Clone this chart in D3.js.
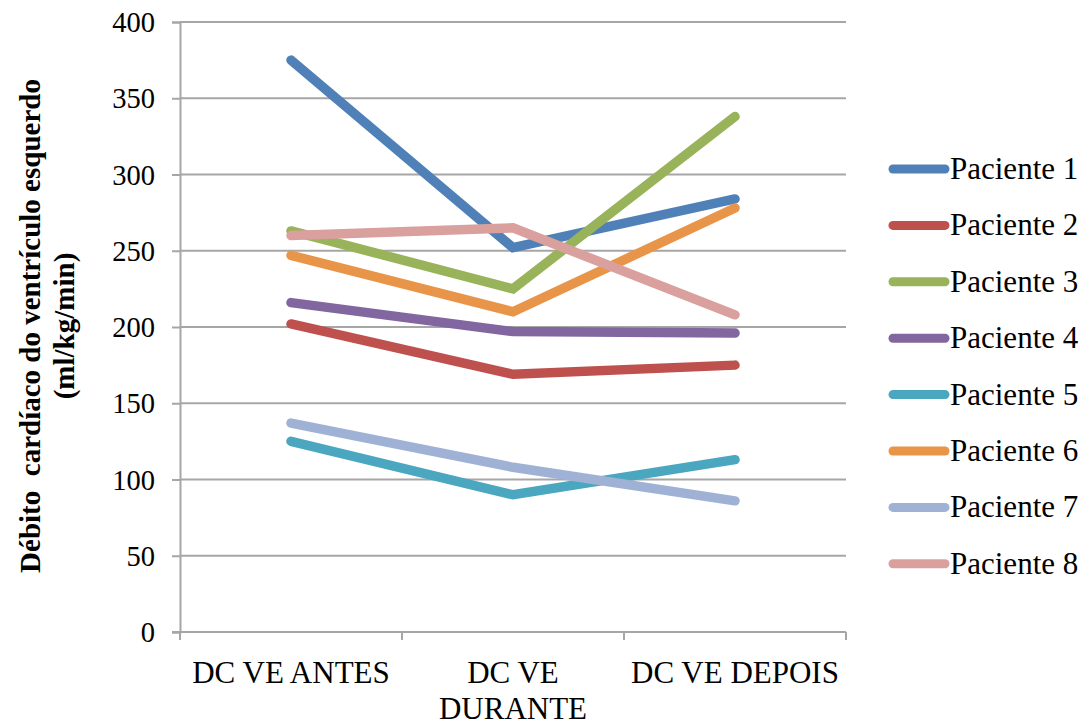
<!DOCTYPE html>
<html><head><meta charset="utf-8">
<script src="https://cdn.jsdelivr.net/npm/d3@7"></script>
<style>body{margin:0;background:#fff}svg{display:block}</style>
</head><body>
<script>
const categories = ["DC VE ANTES", "DC VE DURANTE", "DC VE DEPOIS"];
const categoryLines = [["DC VE ANTES"], ["DC VE", "DURANTE"], ["DC VE DEPOIS"]];
const seriesNames = ["Paciente 1","Paciente 2","Paciente 3","Paciente 4","Paciente 5","Paciente 6","Paciente 7","Paciente 8"];
const p1 = [375, 252, 284];
const p2 = [202, 169, 175];
const p3 = [263, 225, 338];
const p4 = [216, 197, 196];
const p5 = [125, 90, 113];
const p6 = [247, 210, 278];
const p7 = [137, 108, 86];
const p8 = [260, 265, 208];
const seriesValues = [p1,p2,p3,p4,p5,p6,p7,p8];
const colors = ["#4F81B8","#BE514D","#98B35A","#8166A0","#4AA7BF","#E8954A","#9FB2D6","#D9A09E"];
const yTicks = [0,50,100,150,200,250,300,350,400];

const W = 1092, H = 727;
const svg = d3.select("body").append("svg").attr("width", W).attr("height", H);
const mLeft = 180, mRight = 846, mTop = 22, mBottom = 632;

const x = d3.scaleBand().domain(categories).range([mLeft, mRight]);
const y = d3.scaleLinear().domain([0, 400]).range([mBottom, mTop]);
const gridColor = "#A6A6A6";
const serif = "'Liberation Serif', 'Times New Roman', serif";

// gridlines + y axis
const yAxis = d3.axisLeft(y).tickValues(yTicks).tickSize(8).tickPadding(17).tickFormat(d3.format("d"));
const gy = svg.append("g").attr("transform", `translate(${mLeft},0)`).call(yAxis);
gy.select(".domain").attr("stroke", gridColor).attr("stroke-width", 2);
gy.selectAll(".tick line").attr("stroke", gridColor).attr("stroke-width", 2);
gy.selectAll(".tick text").attr("font-family", serif).attr("font-size", 28.5).attr("fill", "#000").attr("dy", "0.34em");
svg.append("g").selectAll("line").data(yTicks.filter(d => d > 0)).join("line")
  .attr("x1", mLeft).attr("x2", mRight).attr("y1", d => y(d)).attr("y2", d => y(d))
  .attr("stroke", gridColor).attr("stroke-width", 2);

// x axis
const xAxis = d3.axisBottom(x).tickSize(0).tickFormat("");
const gx = svg.append("g").attr("transform", `translate(0,${mBottom})`).call(xAxis);
gx.select(".domain").attr("stroke", gridColor).attr("stroke-width", 2).attr("d", `M${mLeft-8},0H${mRight}`);
const bounds = [mLeft].concat(categories.map(c => x(c) + x.bandwidth()));
gx.selectAll(".bt").data(bounds).join("line").attr("class", "bt")
  .attr("x1", d => d).attr("x2", d => d).attr("y1", 0).attr("y2", 8)
  .attr("stroke", gridColor).attr("stroke-width", 2);
categories.forEach((c, i) => {
  const t = svg.append("text").attr("x", x(c) + x.bandwidth()/2).attr("y", 683)
    .attr("text-anchor", "middle").attr("font-family", serif).attr("font-size", 31).attr("fill", "#000");
  categoryLines[i].forEach((ln, j) => {
    t.append("tspan").attr("x", x(c) + x.bandwidth()/2).attr("dy", j === 0 ? 0 : 36).text(ln);
  });
});

// y title
const yt = svg.append("text").attr("transform", "translate(0,326) rotate(-90)")
  .attr("text-anchor", "middle").attr("font-family", serif).attr("font-weight", "bold")
  .attr("font-size", 29).attr("fill", "#000");
yt.append("tspan").attr("x", 0).attr("y", 40).attr("xml:space", "preserve").text("Débito  cardíaco do ventrículo esquerdo");
yt.append("tspan").attr("x", 0).attr("y", 74).text("(ml/kg/min)");

// lines
const line = d3.line().x((d, i) => x(categories[i]) + x.bandwidth()/2).y(d => y(d));
svg.append("g").selectAll("path").data(seriesValues).join("path")
  .attr("d", d => line(d)).attr("fill", "none")
  .attr("stroke", (d, i) => colors[i]).attr("stroke-width", 9.5)
  .attr("stroke-linecap", "round").attr("stroke-linejoin", "miter");

// legend
const lg = svg.append("g");
seriesNames.forEach((n, i) => {
  const cy = 169 + i * 56.4;
  lg.append("line").attr("x1", 893).attr("x2", 945).attr("y1", cy).attr("y2", cy)
    .attr("stroke", colors[i]).attr("stroke-width", 9).attr("stroke-linecap", "round");
  lg.append("text").attr("x", 950).attr("y", cy + 10).attr("font-family", serif)
    .attr("font-size", 31).attr("fill", "#000").text(n);
});
</script>
</body></html>
